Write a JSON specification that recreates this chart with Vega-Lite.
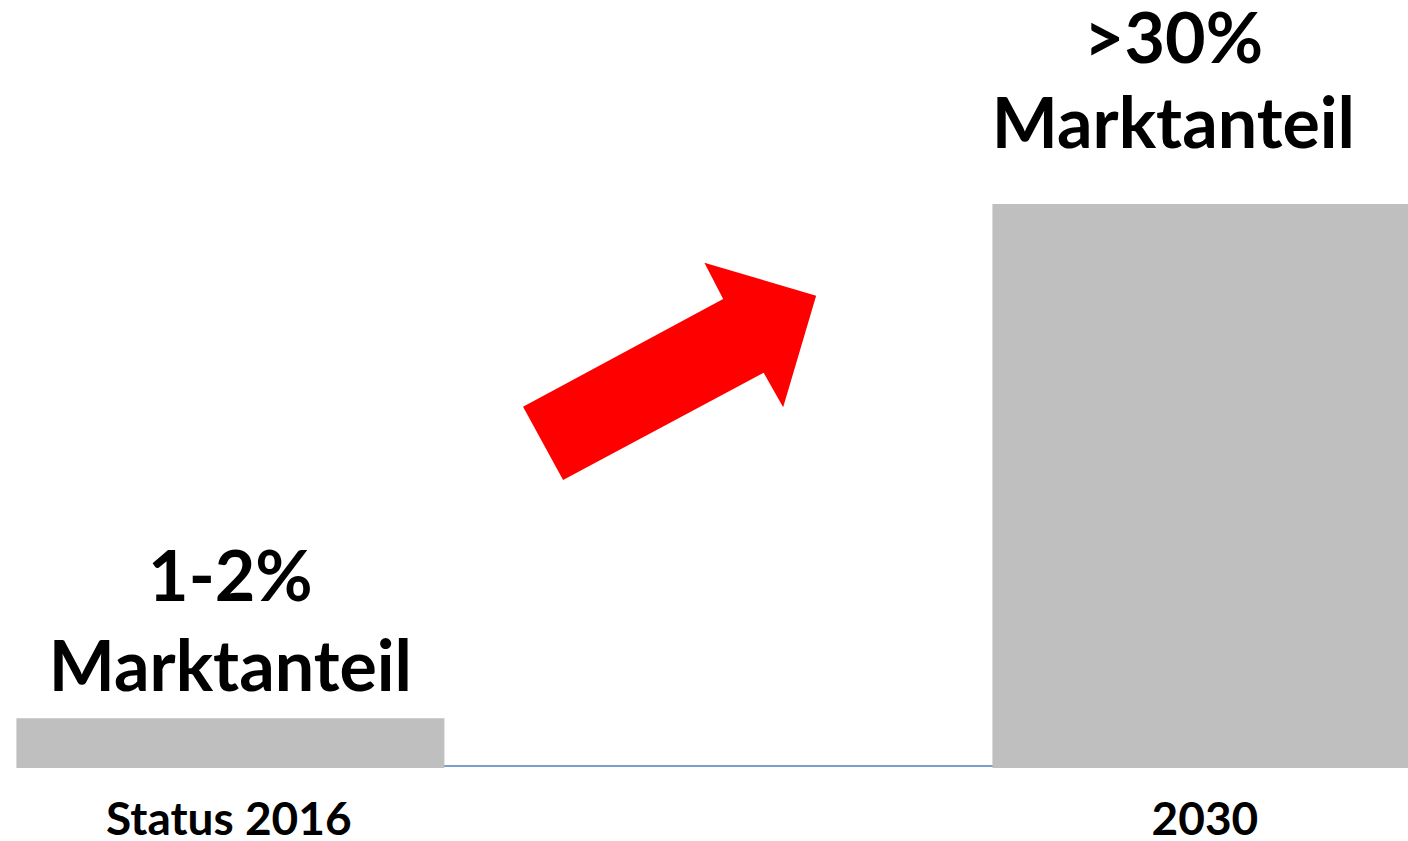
{
  "$schema": "https://vega.github.io/schema/vega-lite/v6.json",
  "width": 1408,
  "height": 768,
  "autosize": "none",
  "padding": {"left": 0, "top": 0, "right": 0, "bottom": 73},
  "background": "#FFFFFF",
  "config": {"view": {"stroke": null}},
  "datasets": {
    "bars": [
      {"period": "Status 2016", "year": 2016, "share": 2.64, "label": "1-2%\nMarktanteil"},
      {"period": "2030", "year": 2030, "share": 30, "label": ">30%\nMarktanteil"}
    ],
    "span": [
      {"from": 2016, "to": 2030, "share": 0}
    ],
    "arrow": [
      {"year": 2022.3, "share": 21.1}
    ]
  },
  "layer": [
    {
      "data": {"name": "span"},
      "mark": {"type": "rule", "color": "#4A7EBB", "strokeWidth": 1.5, "yOffset": -2},
      "encoding": {
        "x": {
          "field": "from", "type": "quantitative",
          "scale": {"domain": [2012.767, 2032.82], "nice": false, "zero": false},
          "axis": {
            "values": [2016, 2030],
            "labelExpr": "datum.value == 2016 ? 'Status 2016' : '2030'",
            "title": null, "grid": false, "ticks": false, "tickSize": 0, "domain": false,
            "offset": -2, "labelOffset": -2,
            "labelFont": "Lato", "labelFontWeight": "bold", "labelFontSize": 46,
            "labelColor": "#000000", "labelBaseline": "alphabetic", "labelPadding": 68,
            "labelFlush": false, "labelOverlap": false, "labelLimit": 0
          }
        },
        "x2": {"field": "to"},
        "y": {"field": "share", "type": "quantitative", "scale": {"domain": [0, 40.85], "nice": false, "zero": true}, "axis": null}
      }
    },
    {
      "data": {"name": "bars"},
      "mark": {"type": "bar", "width": 428, "color": "#BFBFBF", "clip": true},
      "encoding": {
        "x": {"field": "year", "type": "quantitative"},
        "y": {"field": "share", "type": "quantitative"}
      }
    },
    {
      "data": {"name": "bars"},
      "transform": [{"filter": "datum.year == 2016"}],
      "mark": {"type": "text", "font": "Lato", "fontWeight": "bold", "fontSize": 70, "color": "#000000",
               "align": "center", "baseline": "alphabetic", "lineBreak": "\n", "lineHeight": 90, "dy": -117},
      "encoding": {
        "x": {"field": "year", "type": "quantitative"},
        "y": {"field": "share", "type": "quantitative"},
        "text": {"field": "label", "type": "nominal"}
      }
    },
    {
      "data": {"name": "bars"},
      "transform": [{"filter": "datum.year == 2030"}],
      "mark": {"type": "text", "font": "Lato", "fontWeight": "bold", "fontSize": 70, "color": "#000000",
               "align": "center", "baseline": "alphabetic", "lineBreak": "\n", "lineHeight": 85, "dy": -141, "dx": -33},
      "encoding": {
        "x": {"field": "year", "type": "quantitative"},
        "y": {"field": "share", "type": "quantitative"},
        "text": {"field": "label", "type": "nominal"}
      }
    },
    {
      "data": {"name": "arrow"},
      "mark": {
        "type": "point",
        "shape": "M -0.977 0.236 L 0.357 -0.482 L 0.232 -0.724 L 0.977 -0.504 L 0.757 0.240 L 0.627 0.009 L -0.710 0.724 Z",
        "size": 90000, "filled": true, "fill": "#FF0000", "strokeWidth": 0, "opacity": 1
      },
      "encoding": {
        "x": {"field": "year", "type": "quantitative"},
        "y": {"field": "share", "type": "quantitative"}
      }
    }
  ]
}
